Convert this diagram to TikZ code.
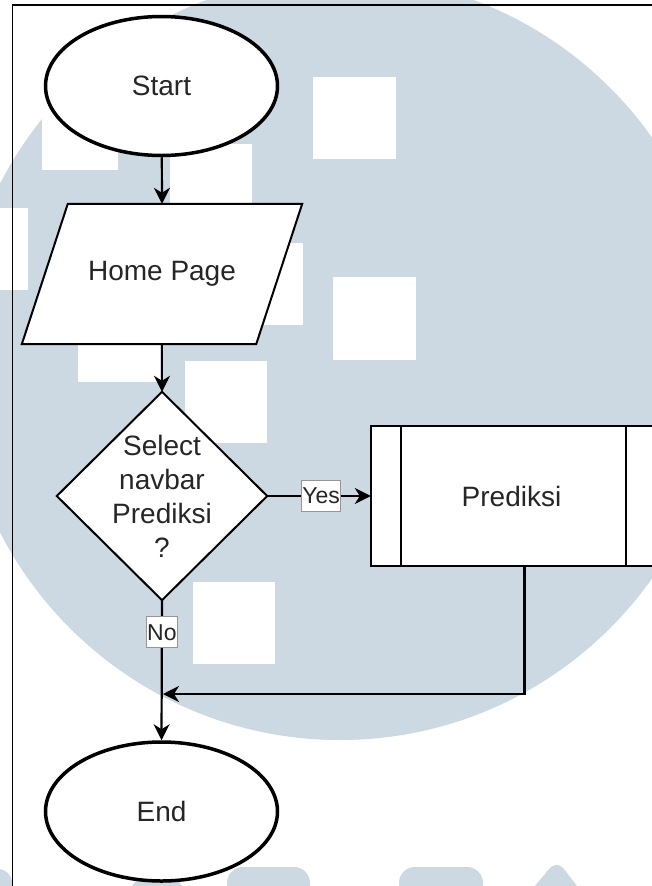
\documentclass[tikz,border=0pt]{standalone}
\usepackage{fontspec}
\setmainfont{Liberation Sans}
\usetikzlibrary{arrows.meta,shapes.geometric}
\definecolor{wmblue}{RGB}{204,216,226}
\definecolor{inkgray}{RGB}{38,38,38}
\definecolor{lblgray}{RGB}{150,150,150}

\begin{document}
\begin{tikzpicture}[x=1pt,y=-1pt,
  flowline/.style={draw=black, line width=2.2pt,
    -{Stealth[length=16pt,width=16pt,inset=5pt]}},
  terminal/.style={ellipse, draw=black, line width=3.5pt, fill=white,
    minimum width=232pt, minimum height=139pt, inner sep=0pt,
    font=\fontsize{28}{34}\selectfont, text=inkgray},
  slot/.style={rectangle, draw=none, inner sep=0pt},
  boxtext/.style={font=\fontsize{28}{34}\selectfont, text=inkgray, align=center},
  border/.style={draw=black, line width=2pt, fill=white, line join=miter},
  lbl/.style={fill=white, draw=lblgray, line width=1pt, inner xsep=1pt,
    minimum height=31pt, font=\fontsize{23}{25}\selectfont, text=inkgray},
  wm/.style={fill=wmblue, draw=none},
  hole/.style={fill=white, draw=none}
]
\useasboundingbox (0,0) rectangle (652,886);
\clip (0,0) rectangle (652,886);
\fill[white] (0,0) rectangle (652,886);

% background emblem
\fill[wm] (340,358) circle[radius=382];
\foreach \xa/\ya/\xb/\yb in {313/77/396/159, 42/90/118/170, 170/144/252/226,
    -54/208/28/290, 221/243/303/325, 333/277/416/360, 78/300/160/382,
    185/361/267/443, 193/582/275/664}
  \fill[hole] (\xa,\ya) rectangle (\xb,\yb);
\fill[wm, rounded corners=14pt] (-30,869) rectangle (12,920);
\fill[wm, rounded corners=12pt] (131,879) rectangle (183,920);
\fill[wm, rounded corners=16pt] (227,867) rectangle (310,920);
\fill[wm, rounded corners=16pt] (399,867) rectangle (483,920);
\fill[wm] (523,900) -- (545,874) .. controls (553,862) and (560,862) .. (567,873) -- (588,900) -- cycle;

% page frame
\draw[black, line width=1.2pt] (12.5,900) -- (12.5,5) -- (660,5);

% flow nodes
\node[terminal] (start) at (161.5,86) {Start};
\node[slot, minimum width=234pt, minimum height=140pt] (home) at (162,274) {};
\draw[border] ([xshift=23pt]home.north west) -- ([xshift=23pt]home.north east)
  -- ([xshift=-23pt]home.south east) -- ([xshift=-23pt]home.south west) -- cycle;
\node[boxtext] at (home.center) {Home Page};

\node[slot, minimum width=210pt, minimum height=208pt] (dec) at (162,496) {};
\draw[border] (dec.north) -- (dec.east) -- (dec.south) -- (dec.west) -- cycle;
\node[boxtext] at (dec.center) {Select\\navbar\\Prediksi\\?};

\node[slot, minimum width=285pt, minimum height=140pt] (pred) at (513.5,496) {};
\draw[border] (pred.north west) rectangle (pred.south east);
\draw[black, line width=2pt] ([xshift=30pt]pred.north west) -- ([xshift=30pt]pred.south west);
\draw[black, line width=2pt] ([xshift=-30pt]pred.north east) -- ([xshift=-30pt]pred.south east);
\node[boxtext] at ([xshift=-2pt]pred.center) {Prediksi};

\node[terminal] (end) at (161.5,811.5) {End};
\coordinate (join) at (162,694);

% connectors
\draw[flowline] (start) -- (home.north);
\draw[flowline] (home.south) -- (dec.north);
\draw[flowline] (dec.east) -- node[lbl, pos=0.52] {Yes} (pred.west);
\draw[flowline] ([xshift=11pt]pred.south) |- ([xshift=1pt]join);
\draw[flowline] (dec.south) -- node[lbl, pos=0.23] {No} (end.north);
\end{tikzpicture}
\end{document}
